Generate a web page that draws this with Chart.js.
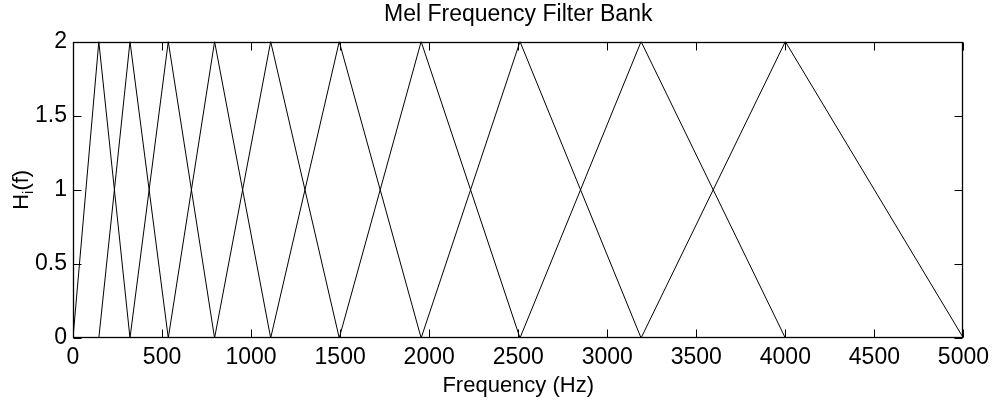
<!DOCTYPE html>
<html>
<head>
<meta charset="utf-8">
<script src="https://cdn.jsdelivr.net/npm/chart.js@4.4.1/dist/chart.umd.min.js"></script>
<style>
  html, body { margin: 0; padding: 0; background: #ffffff; }
  #wrap { width: 995px; height: 404px; }
</style>
</head>
<body>
<div id="wrap"><canvas id="c" width="995" height="404"></canvas></div>
<script>
// ---- data ----
const chartTitle = 'Mel Frequency Filter Bank';
const xAxisTitle = 'Frequency (Hz)';
// filter band edges (Hz): filter k rises from edges[k] to a peak at edges[k+1] and falls to 0 at edges[k+2]
const filterEdgesHz = [0, 145, 320, 535, 795, 1110, 1495, 1955, 2510, 3190, 4000, 5000];
const filterPeakGain = [2, 2, 2, 2, 2, 2, 2, 2, 2, 2];
const xTickValues = [0, 500, 1000, 1500, 2000, 2500, 3000, 3500, 4000, 4500, 5000];
const xTickLabels = ['0', '500', '1000', '1500', '2000', '2500', '3000', '3500', '4000', '4500', '5000'];
const yTickValues = [0, 0.5, 1, 1.5, 2];
const yTickLabels = ['0', '0.5', '1', '1.5', '2'];

const FONT = "'Liberation Sans', Arial, Helvetica, sans-serif";

const datasets = filterPeakGain.map((g, k) => ({
  label: 'H' + (k + 1),
  data: [
    { x: filterEdgesHz[k], y: 0 },
    { x: filterEdgesHz[k + 1], y: g },
    { x: filterEdgesHz[k + 2], y: 0 }
  ],
  borderColor: '#000000',
  borderWidth: 1,
  pointRadius: 0,
  fill: false,
  tension: 0
}));

// MATLAB-style box with inward ticks, plus subscripted y-axis label
const matlabAxes = {
  id: 'matlabAxes',
  afterDatasetsDraw(chart) {
    const ctx = chart.ctx;
    const a = chart.chartArea;
    const xs = chart.scales.x, ys = chart.scales.y;
    const L = Math.round(a.left) + 0.5, R = Math.round(a.right) - 0.5;
    const T = Math.round(a.top) + 0.5, B = Math.round(a.bottom) - 0.5;
    const tl = 8;
    ctx.save();
    ctx.strokeStyle = '#000';
    ctx.lineWidth = 1;
    ctx.beginPath();
    xTickValues.forEach(v => {
      const px = Math.round(xs.getPixelForValue(v)) + 0.5;
      ctx.moveTo(px, B); ctx.lineTo(px, B - tl);
      ctx.moveTo(px, T); ctx.lineTo(px, T + tl);
    });
    yTickValues.forEach(v => {
      const py = Math.round(ys.getPixelForValue(v)) + 0.5;
      ctx.moveTo(L, py); ctx.lineTo(L + tl, py);
      ctx.moveTo(R, py); ctx.lineTo(R - tl, py);
    });
    ctx.stroke();
    ctx.lineWidth = 1.3;
    ctx.strokeRect(L, T, R - L, B - T);
    ctx.restore();

    // y label: H_i(f)
    ctx.save();
    ctx.fillStyle = '#000';
    const cy = (a.top + a.bottom) / 2;
    ctx.translate(28, cy);
    ctx.rotate(-Math.PI / 2);
    ctx.textBaseline = 'alphabetic';
    ctx.textAlign = 'left';
    const big = '22px ' + FONT, small = '15px ' + FONT;
    ctx.font = big; const wH = ctx.measureText('H').width; const wf = ctx.measureText('(f)').width;
    ctx.font = small; const wi = ctx.measureText('i').width;
    let x0 = -(wH + wi + wf) / 2;
    ctx.font = big; ctx.fillText('H', x0, 0);
    ctx.font = small; ctx.fillText('i', x0 + wH, 5);
    ctx.font = big; ctx.fillText('(f)', x0 + wH + wi, 0);
    ctx.restore();
  }
};

new Chart(document.getElementById('c'), {
  type: 'line',
  data: { datasets },
  plugins: [matlabAxes],
  options: {
    responsive: false,
    animation: false,
    events: [],
    layout: { padding: { left: 0, right: 30, top: 0, bottom: 0 } },
    plugins: {
      legend: { display: false },
      tooltip: { enabled: false },
      title: {
        display: true,
        text: chartTitle,
        fullSize: false,
        color: '#000',
        font: { family: FONT, size: 23, weight: 'normal' },
        padding: { top: 1, bottom: 13 }
      }
    },
    scales: {
      x: {
        type: 'linear',
        min: 0, max: 5000,
        afterBuildTicks(scale) { scale.ticks = xTickValues.map(v => ({ value: v })); },
        afterFit(scale) { scale.height = 66; },
        grid: { display: false, drawTicks: false },
        border: { display: false },
        ticks: {
          padding: 6,
          color: '#000',
          font: { family: FONT, size: 23 },
          maxRotation: 0,
          autoSkip: false,
          callback: (v, i) => xTickLabels[xTickValues.indexOf(v)]
        },
        title: {
          display: true,
          text: xAxisTitle,
          color: '#000',
          font: { family: FONT, size: 22 },
          padding: { top: 0, bottom: 5 }
        }
      },
      y: {
        type: 'linear',
        min: 0, max: 2,
        afterBuildTicks(scale) { scale.ticks = yTickValues.map(v => ({ value: v })); },
        afterFit(scale) { scale.width = 73; },
        grid: { display: false, drawTicks: false },
        border: { display: false },
        ticks: {
          padding: 6,
          color: '#000',
          font: { family: FONT, size: 23 },
          autoSkip: false,
          callback: (v) => yTickLabels[yTickValues.indexOf(v)]
        }
      }
    }
  }
});
</script>
</body>
</html>
